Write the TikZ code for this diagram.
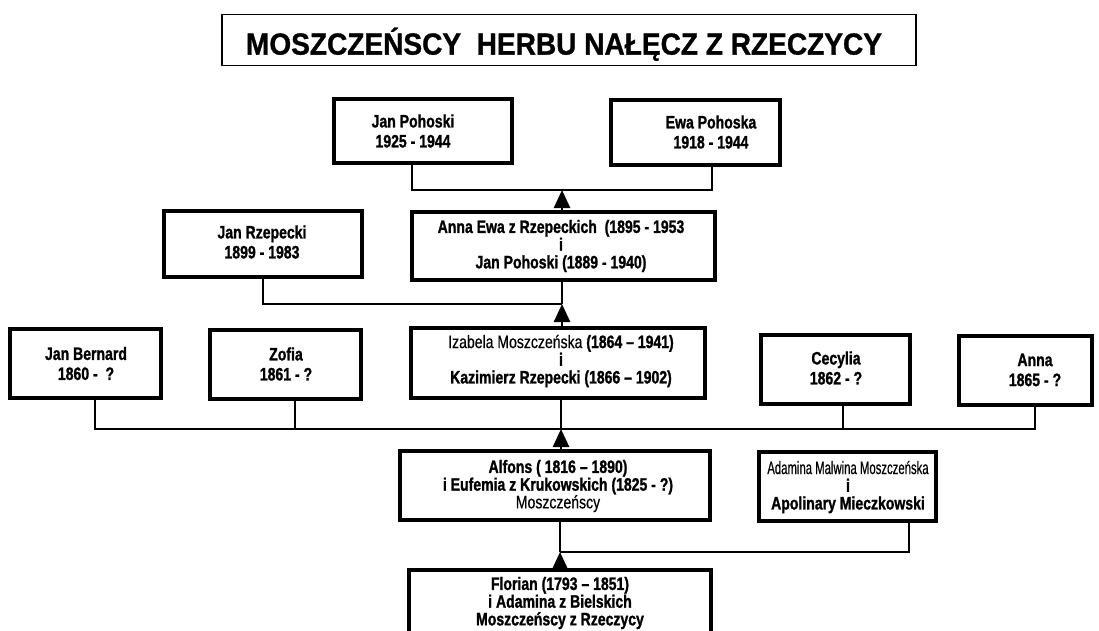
\documentclass[tikz,border=0pt]{standalone}
\usepackage{fontspec}
\setmainfont{Liberation Sans}
\newfontfamily\cond[FakeStretch=0.78, BoldFeatures={FakeBold=1.2}]{Liberation Sans}
\newfontfamily\condr[FakeStretch=0.78, FakeBold=0.4]{Liberation Sans}
\newfontfamily\condn[FakeStretch=0.63, FakeBold=0.4]{Liberation Sans}
\newfontfamily\ttlfont[FakeStretch=0.92, BoldFeatures={FakeBold=1}]{Liberation Sans}
\usetikzlibrary{arrows.meta}
\tikzset{
  box/.style={draw, line width=3.6pt, inner sep=0pt},
  txt/.style={font=\cond\bfseries\fontsize{18}{20}\selectfont, align=center, inner sep=0pt},
  txtt/.style={font=\cond\bfseries\fontsize{18}{17.7}\selectfont, align=center, inner sep=0pt},
  link/.style={line width=1.8pt},
  up/.style={line width=2.6pt, -{Triangle[width=16pt,length=18pt]}},
  ttl/.style={font=\ttlfont\bfseries\fontsize{30.5}{34}\selectfont, inner sep=0pt}
}
\begin{document}
\begin{tikzpicture}[x=1pt,y=-1pt]
\useasboundingbox (0,0) rectangle (1099,631);
\fill[white] (0,0) rectangle (1099,631);
\begin{scope}
\clip (0,0) rectangle (1099,631);
% title
\node[draw, line width=1.3pt, minimum width=694pt, minimum height=51pt, inner sep=0pt] (title) at (569,40) {};
\node[ttl, anchor=base] (ttext) at (564,54.6) {MOSZCZEŃSCY\ \ HERBU NAŁĘCZ Z RZECZYCY};
% boxes
\node[box, minimum width=178pt, minimum height=64pt] (jpoh) at (423,131) {};
\node[box, minimum width=169pt, minimum height=65pt] (ewa) at (695.5,132.5) {};
\node[box, minimum width=198pt, minimum height=66pt] (jrz) at (263,244) {};
\node[box, minimum width=303pt, minimum height=68pt] (anna) at (563.5,246) {};
\node[box, minimum width=294pt, minimum height=70pt] (iza) at (558,363) {};
\node[box, minimum width=151pt, minimum height=69pt] (jb) at (85.5,363.5) {};
\node[box, minimum width=151pt, minimum height=69pt] (zof) at (285.5,364.5) {};
\node[box, minimum width=149pt, minimum height=69pt] (cec) at (835.5,369.5) {};
\node[box, minimum width=133pt, minimum height=69pt] (anna2) at (1025.5,370.5) {};
\node[box, minimum width=310pt, minimum height=69pt] (alf) at (555,485.5) {};
\node[box, minimum width=177pt, minimum height=69pt] (ada) at (847.5,486.5) {};
\node[box, minimum width=302pt, minimum height=68pt] (flo) at (560,604) {};
% texts
\node[txt] (tjpoh) at (413,131) {Jan Pohoski\\1925 - 1944};
\node[txt] (tewa) at (711,132) {Ewa Pohoska\\1918 - 1944};
\node[txt] (tjrz) at (262,242) {Jan Rzepecki\\1899 - 1983};
\node[txtt] (tanna) at (561,246) {Anna Ewa z Rzepeckich\ \ (1895 - 1953\\i\\Jan Pohoski (1889 - 1940)};
\node[txtt] (tiza) at (561,361) {{\condr\mdseries Izabela Moszczeńska} (1864 – 1941)\\i\\Kazimierz Rzepecki (1866 – 1902)};
\node[txt] (tjb) at (86,363.5) {Jan Bernard\\1860 -\ \ ?};
\node[txt] (tzof) at (286,364) {Zofia\\1861 - ?};
\node[txt] (tcec) at (836,368) {Cecylia\\1862 - ?};
\node[txt] (tanna2) at (1035,370) {Anna\\1865 - ?};
\node[txtt] (talf) at (558,486) {Alfons ( 1816 – 1890)\\i Eufemia z Krukowskich (1825 - ?)\\{\condr\mdseries Moszczeńscy}};
\node[txtt] (tada) at (848,487) {{\condn\mdseries Adamina Malwina Moszczeńska}\\i\\Apolinary Mieczkowski};
\node[txtt] (tflo) at (560,603) {Florian (1793 – 1851)\\i Adamina z Bielskich\\Moszczeńscy z Rzeczycy};
% junctions
\coordinate (h1) at (562,190);
\coordinate (h2) at (562,304);
\coordinate (h3) at (561,429);
\coordinate (h4) at (560,552);
% bus 1
\draw[link] ([xshift=-11pt]jpoh.south) |- (h1) -| ([xshift=16.5pt]ewa.south);
\draw[up] (h1 |- anna.north) -- (h1);
% bus 2
\draw[link] (jrz.south) |- (h2);
\draw[link] (h2 |- anna.south) -- (h2);
\draw[up] (h2 |- iza.north) -- (h2);
% bus 3
\draw[link] ([xshift=9.5pt]jb.south) |- (h3) -| ([xshift=9.5pt]anna2.south);
\draw[link] ([xshift=9.5pt]zof.south) -- ([xshift=9.5pt]zof.south |- h3);
\draw[link] ([xshift=7.5pt]cec.south) -- ([xshift=7.5pt]cec.south |- h3);
\draw[link] (h3 |- iza.south) -- (h3);
\draw[up] (h3 |- alf.north) -- (h3);
% bus 4
\draw[link] ([xshift=61.5pt]ada.south) |- (h4);
\draw[link] (h4 |- alf.south) -- (h4);
\draw[up] (h4 |- flo.north) -- (h4);
\end{scope}
\end{tikzpicture}
\end{document}
